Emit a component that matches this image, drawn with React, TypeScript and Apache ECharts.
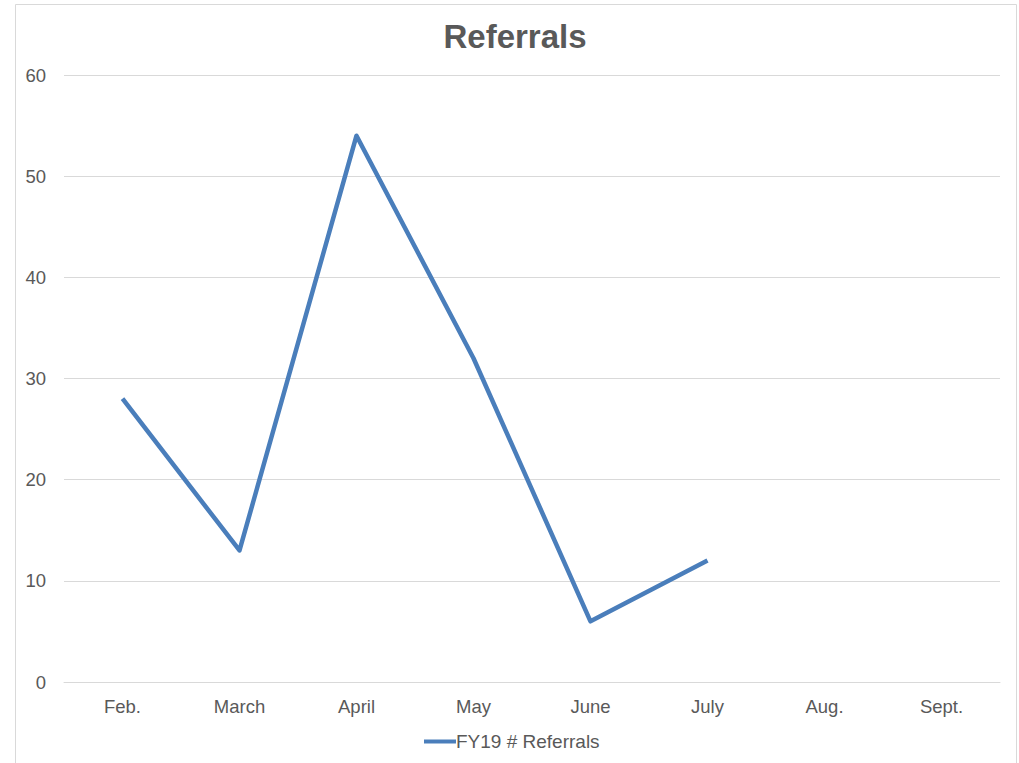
import React, { useEffect, useRef } from "react";
import * as echarts from "echarts";

const categories = ["Feb.", "March", "April", "May", "June", "July", "Aug.", "Sept."];
const referrals: (number | null)[] = [28, 13, 54, 32, 6, 12, null, null];
const seriesName = "FY19 # Referrals";
const titleText = "Referrals";

export default function App() {
  const ref = useRef<HTMLDivElement>(null);
  useEffect(() => {
    if (!ref.current) return;
    const chart = echarts.init(ref.current, null, { renderer: "svg" });
    chart.setOption({
      animation: false,
      backgroundColor: "#ffffff",
      textStyle: { fontFamily: "Liberation Sans, Arial, sans-serif" },
      graphic: [
        {
          type: "rect",
          shape: { x: 15.5, y: 4.5, width: 1001, height: 800 },
          style: { fill: "none", stroke: "#d9d9d9", lineWidth: 1 },
          silent: true,
        },
        {
          type: "text",
          x: 515,
          y: 36,
          style: {
            text: titleText,
            align: "center",
            verticalAlign: "middle",
            fontSize: 33,
            fontWeight: "bold",
            fill: "#595959",
            fontFamily: "Liberation Sans, Arial, sans-serif",
          },
          silent: true,
        },
      ],
      legend: {
        bottom: 7,
        left: 419,
        itemWidth: 32,
        itemHeight: 4,
        itemGap: 10,
        icon: "rect",
        textStyle: { fontSize: 19, color: "#595959", padding: [0, 0, 0, -5] },
        data: [{ name: seriesName }],
      },
      grid: { left: 64, right: 19, top: 75, bottom: 81, containLabel: false },
      xAxis: {
        type: "category",
        data: categories,
        boundaryGap: true,
        axisLine: { show: true, lineStyle: { color: "#d9d9d9" } },
        axisTick: { show: false },
        axisLabel: { color: "#595959", fontSize: 18.5, margin: 15 },
      },
      yAxis: {
        type: "value",
        min: 0,
        max: 60,
        interval: 10,
        axisLine: { show: false },
        axisTick: { show: false },
        axisLabel: { color: "#595959", fontSize: 18.5, margin: 18 },
        splitLine: { lineStyle: { color: "#d9d9d9", width: 1 } },
      },
      series: [
        {
          name: seriesName,
          type: "line",
          data: referrals,
          showSymbol: false,
          symbol: "none",
          connectNulls: false,
          lineStyle: { color: "#4a7ebb", width: 4.5, join: "round" },
          itemStyle: { color: "#4a7ebb" },
        },
      ],
    });
    return () => chart.dispose();
  }, []);
  return (
    <div
      ref={ref}
      style={{ position: "absolute", left: 0, top: 0, width: 1019, height: 763 }}
    />
  );
}
